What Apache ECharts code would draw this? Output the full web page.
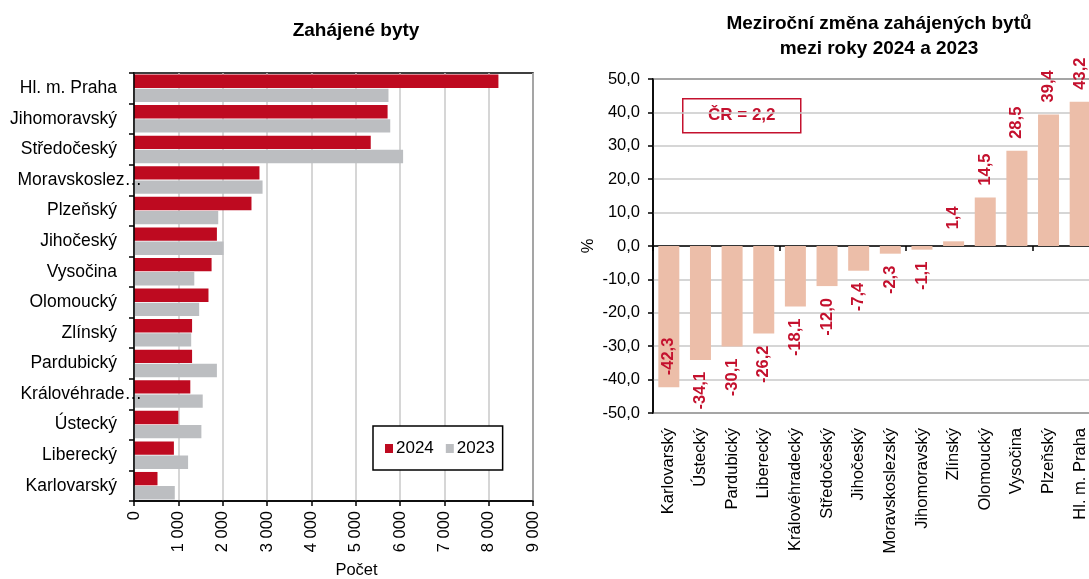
<!DOCTYPE html>
<html>
<head>
<meta charset="utf-8">
<script src="https://cdn.jsdelivr.net/npm/echarts@6/dist/echarts.min.js"></script>
<style>
html,body{margin:0;padding:0;background:#fff;}
#chart{width:1089px;height:579px;}
</style>
</head>
<body>
<div id="chart"></div>
<script>
// ---- data ----
const leftTitle = 'Zahájené byty';
const rightTitle = 'Meziroční změna zahájených bytů\nmezi roky 2024 a 2023';
const leftCats = ['Hl. m. Praha','Jihomoravský','Středočeský','Moravskoslez…','Plzeňský','Jihočeský','Vysočina','Olomoucký','Zlínský','Pardubický','Královéhrade…','Ústecký','Liberecký','Karlovarský'];
const seriesNames = ['2024','2023'];
const v2024 = [8220, 5720, 5340, 2830, 2650, 1870, 1750, 1680, 1310, 1310, 1270, 1000, 900, 530];
const v2023 = [5740, 5780, 6070, 2900, 1900, 2020, 1360, 1470, 1290, 1870, 1550, 1520, 1220, 920];
const rightCats = ['Karlovarský','Ústecký','Pardubický','Liberecký','Královéhradecký','Středočeský','Jihočeský','Moravskoslezský','Jihomoravský','Zlínský','Olomoucký','Vysočina','Plzeňský','Hl. m. Praha'];
const change = [-42.3,-34.1,-30.1,-26.2,-18.1,-12.0,-7.4,-2.3,-1.1,1.4,14.5,28.5,39.4,43.2];
const crTotal = 2.2;
const leftAxisName = 'Počet';
const rightAxisName = '%';

// ---- styling ----
const FONT = "'Liberation Sans', Arial, sans-serif";
const RED = '#BE0A20';
const GREY = '#BCBEC1';
const SALMON = '#ECBEA9';
const LABELRED = '#C4112E';
const GRID = '#C8C8C8';
const fmtComma = v => Number(v).toFixed(1).replace('.', ',');
const fmtThousands = v => String(v).replace(/\B(?=(\d{3})+(?!\d))/g, ' ');

const yMin = -50, yMax = 50;

// truncated labels overhang the axis like in the source
const leftCatItems = leftCats.map(c => c.endsWith('…')
  ? {value: c, textStyle: {padding: [0, -25, 0, 0]}}
  : c);

const changeData = change.map(v => {
  let label;
  if (v >= 0) {
    label = {position: 'top', align: 'left', verticalAlign: 'middle'};
  } else if (v < yMin + 10) {
    label = {position: 'insideBottom', align: 'left', verticalAlign: 'middle'};
  } else {
    label = {position: 'bottom', align: 'right', verticalAlign: 'middle'};
  }
  return {value: v, label: label};
});

const chart = echarts.init(document.getElementById('chart'), null, {renderer: 'canvas'});
const option = {
  backgroundColor: '#fff',
  animation: false,
  textStyle: {fontFamily: FONT},
  title: [
    {text: leftTitle, left: 351, top: 16, textAlign: 'center',
     textStyle: {fontFamily: FONT, fontSize: 19, fontWeight: 'bold', color: '#000'}},
    {text: rightTitle, left: 874, top: 6, textAlign: 'center',
     textStyle: {fontFamily: FONT, fontSize: 19, fontWeight: 'bold', color: '#000', lineHeight: 25}}
  ],
  legend: {
    data: seriesNames,
    left: 373, top: 426,
    orient: 'horizontal',
    icon: 'rect',
    itemWidth: 8, itemHeight: 9, itemGap: 12,
    padding: [14, 8, 13, 12],
    borderColor: '#000', borderWidth: 1.5,
    backgroundColor: '#fff',
    textStyle: {fontFamily: FONT, fontSize: 17, color: '#000', padding: [0,0,0,-2]}
  },
  grid: [
    {left: 134, right: 556, top: 73, bottom: 78, show: true, borderColor: '#000', borderWidth: 1.5,
     backgroundColor: 'transparent', containLabel: false, outerBoundsMode: 'none'},
    {left: 653, width: 443, top: 79, bottom: 166, show: true, borderColor: '#000', borderWidth: 1.5,
     backgroundColor: 'transparent', containLabel: false, outerBoundsMode: 'none'}
  ],
  xAxis: [
    {type: 'value', gridIndex: 0, min: 0, max: 9000, interval: 1000,
     name: leftAxisName, nameLocation: 'middle', nameGap: 61,
     nameTextStyle: {fontFamily: FONT, fontSize: 16.5, color: '#000', padding: [0,0,0,46]},
     axisLine: {show: true, lineStyle: {color: '#000', width: 1.5}},
     axisTick: {show: true, length: 5, lineStyle: {color: '#000', width: 1.5}},
     axisLabel: {rotate: 90, margin: 10, fontFamily: FONT, fontSize: 16.5, color: '#000', formatter: fmtThousands},
     splitLine: {show: true, lineStyle: {color: GRID, width: 1.5}}},
    {type: 'category', gridIndex: 1, data: rightCats, position: 'top',
     axisLine: {show: true, onZero: true, lineStyle: {color: '#000', width: 1.5}},
     axisTick: {show: true, inside: true, length: 5, lineStyle: {color: '#000', width: 1.5}},
     axisLabel: {show: false},
     splitLine: {show: false}},
    {type: 'category', gridIndex: 1, data: rightCats, position: 'bottom',
     axisLine: {show: false, onZero: false},
     axisTick: {show: false},
     axisLabel: {rotate: 90, margin: 15, fontFamily: FONT, fontSize: 16.5, color: '#000', interval: 0},
     splitLine: {show: false}}
  ],
  yAxis: [
    {type: 'category', gridIndex: 0, data: leftCatItems, inverse: true, z: 5,
     axisLine: {show: true, lineStyle: {color: '#000', width: 1.5}},
     axisTick: {show: true, length: 5, lineStyle: {color: '#000', width: 1.5}},
     axisLabel: {margin: 17, fontFamily: FONT, fontSize: 17.5, color: '#000', interval: 0},
     splitLine: {show: false}},
    {type: 'value', gridIndex: 1, min: yMin, max: yMax, interval: 10,
     name: rightAxisName, nameLocation: 'middle', nameGap: 56,
     nameTextStyle: {fontFamily: FONT, fontSize: 16.5, color: '#000'},
     axisLine: {show: true, lineStyle: {color: '#000', width: 1.5}},
     axisTick: {show: true, length: 5, lineStyle: {color: '#000', width: 1.5}},
     axisLabel: {margin: 13, fontFamily: FONT, fontSize: 16.5, color: '#000', formatter: fmtComma},
     splitLine: {show: true, lineStyle: {color: GRID, width: 1.5}}}
  ],
  series: [
    {name: seriesNames[0], type: 'bar', xAxisIndex: 0, yAxisIndex: 0, data: v2024,
     itemStyle: {color: RED}, barGap: '6%', barCategoryGap: '10%'},
    {name: seriesNames[1], type: 'bar', xAxisIndex: 0, yAxisIndex: 0, data: v2023,
     itemStyle: {color: GREY}, barGap: '6%', barCategoryGap: '10%'},
    {name: 'change', type: 'bar', xAxisIndex: 1, yAxisIndex: 1, data: changeData,
     barWidth: 21,
     itemStyle: {color: SALMON},
     label: {show: true, rotate: 90, distance: 12, formatter: p => fmtComma(p.value),
             fontFamily: FONT, fontSize: 16.5, fontWeight: 'bold', color: LABELRED}}
  ],
  graphic: [
    {type: 'group', left: 682, top: 98, children: [
      {type: 'rect', shape: {x: 0, y: 0, width: 118, height: 34},
       style: {fill: '#fff', stroke: LABELRED, lineWidth: 1.5}},
      {type: 'text', x: 59, y: 17,
       style: {text: 'ČR = ' + fmtComma(crTotal), fill: LABELRED, font: 'bold 17px ' + FONT,
               align: 'center', verticalAlign: 'middle'}}
    ]}
  ]
};
chart.setOption(option);
</script>
</body>
</html>
